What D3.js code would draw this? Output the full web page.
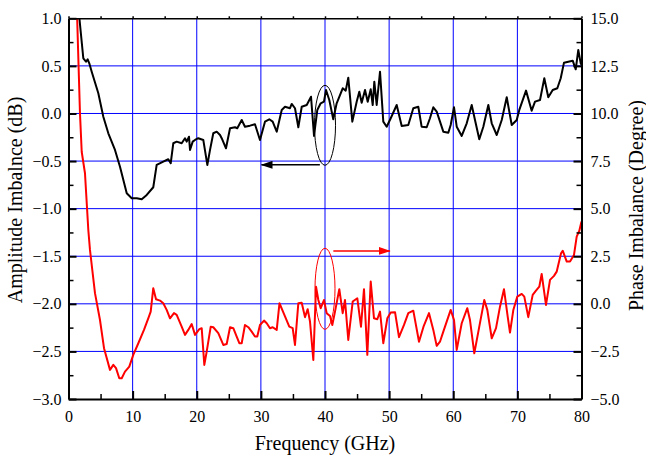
<!DOCTYPE html>
<html>
<head>
<meta charset="utf-8">
<script src="https://cdn.jsdelivr.net/npm/d3@7"></script>
<style>
  html, body { margin: 0; padding: 0; background: #fff; }
  svg { display: block; }
  text { font-family: "Liberation Serif", "Times New Roman", Times, serif; fill: #000; }
</style>
</head>
<body>
<svg id="chart" width="646" height="457"></svg>
<script>
// ---------- data ----------
const ampFreq = [1.7,2.31,2.73,2.99,3.24,3.62,4.65,5.43,6.21,7.25,8.03,9.08,9.86,10.64,11.42,12.2,13.22,13.75,14.78,15.56,15.94,16.34,16.87,17.65,18.17,18.43,18.79,18.95,19.37,19.73,20.24,21.02,21.65,22.07,22.58,23.11,23.63,23.89,24.56,25.19,25.97,26.32,27.01,27.52,28.3,29.08,29.86,30.64,31.31,31.84,32.47,33.25,33.76,34.54,34.81,35.32,35.84,36.37,37.15,37.82,38.29,38.8,39.33,39.84,40.16,40.67,41.29,41.82,42.76,43.23,43.63,44.26,44.94,45.35,45.72,46.24,46.66,47.13,47.44,47.69,48.06,48.58,49.09,49.62,50.25,51.18,51.96,52.99,53.77,54.55,55.07,55.86,56.37,56.89,57.42,58.45,59.23,59.6,60.12,60.54,61.32,62.1,62.88,63.39,64.06,64.69,65.47,66.0,66.78,67.56,68.34,69.12,69.9,70.3,71.35,72.23,72.75,73.53,74.2,74.82,75.51,76.23,76.76,77.27,77.94,78.63,79.1,79.5,79.88,80.0];
const ampValues = [1.0,0.58,0.544,0.569,0.527,0.439,0.212,-0.034,-0.208,-0.383,-0.559,-0.838,-0.891,-0.891,-0.901,-0.856,-0.775,-0.541,-0.506,-0.481,-0.523,-0.313,-0.296,-0.313,-0.26,-0.296,-0.244,-0.383,-0.296,-0.278,-0.26,-0.278,-0.541,-0.383,-0.208,-0.191,-0.226,-0.26,-0.366,-0.155,-0.145,-0.155,-0.068,-0.139,-0.128,-0.113,-0.278,-0.086,-0.061,-0.086,-0.191,0.037,0.071,0.055,0.10,0.055,-0.145,0.071,0.089,0.176,-0.236,0.037,0.107,0.124,0.247,0.142,-0.061,0.107,0.265,0.24,0.376,-0.086,0.124,0.229,0.113,0.247,0.124,0.254,0.089,0.334,0.089,0.439,-0.086,-0.139,-0.05,0.089,-0.131,-0.121,0.055,0.071,-0.139,-0.145,-0.05,0.065,0.019,-0.191,-0.202,-0.121,0.065,-0.139,-0.236,-0.103,0.089,-0.068,-0.271,-0.139,0.089,-0.103,-0.226,-0.068,0.17,-0.121,-0.068,0.037,0.24,0.029,0.124,0.142,0.37,0.17,0.247,0.265,0.37,0.534,0.544,0.555,0.464,0.667,0.527,0.51];

const phaseFreq = [1.35,1.79,2.06,2.57,3.09,3.35,4.13,4.91,5.54,6.47,6.99,7.41,7.92,8.3,8.81,9.48,10.1,10.89,11.77,12.44,12.82,13.22,13.65,14.27,14.78,15.31,15.83,16.45,16.87,17.65,18.17,18.68,19.21,19.73,20.4,20.77,21.18,21.55,22.18,22.58,23.36,24.14,24.67,25.19,25.7,26.23,26.64,27.01,27.52,28.04,28.57,29.08,29.44,29.86,30.49,30.91,31.42,31.84,32.47,32.9,33.5,34.43,34.96,35.32,35.84,36.37,36.88,37.3,37.66,38.18,38.6,38.96,39.33,39.84,40.26,40.78,41.14,41.56,42.23,42.76,43.12,43.63,44.32,45.04,45.61,46.08,46.6,47.13,47.64,48.16,48.58,49.09,49.72,50.25,50.92,51.54,52.32,52.99,53.77,54.66,55.36,56.22,56.89,57.42,57.93,58.45,59.6,60.12,60.54,61.32,62.19,62.61,63.28,64.06,64.84,65.31,66.0,66.67,67.29,67.91,68.49,68.85,69.37,69.99,70.68,71.08,71.7,72.39,72.9,73.42,73.79,74.46,75.09,75.71,76.13,76.81,77.07,77.7,78.21,78.83,79.25,79.66,80.0];
const phaseValues = [15.0,10.01,7.99,6.86,3.88,2.83,0.56,-0.85,-2.33,-3.47,-3.21,-3.38,-3.91,-3.91,-3.56,-3.30,-2.68,-2.07,-1.37,-0.76,-0.41,0.82,0.24,0.17,0.03,-0.32,-0.76,-0.49,-0.58,-1.20,-1.63,-1.37,-1.06,-1.63,-1.33,-1.28,-3.21,-2.51,-1.20,-1.23,-1.54,-2.16,-2.11,-1.23,-1.28,-1.72,-2.07,-2.07,-1.11,-1.23,-1.46,-1.72,-1.72,-1.11,-0.88,-1.02,-1.28,-1.23,-1.37,0.03,-0.45,-1.20,-1.28,-2.16,0.03,0.06,-0.70,-0.28,-0.93,-2.95,0.90,0.20,-0.23,0.20,-0.49,-0.64,-1.11,-0.41,0.77,-0.49,0.20,-1.90,0.12,0.29,-1.20,0.77,-2.68,1.17,-0.76,-0.81,-0.41,-2.07,-0.76,-0.46,-0.44,-1.75,-1.11,-0.49,-0.36,-1.99,-1.20,-0.49,-1.37,-2.21,-1.99,-1.46,-0.32,-0.85,-2.42,-1.02,-0.23,-0.85,-2.60,-1.20,0.20,-0.32,-1.81,-1.28,-0.15,0.77,-0.67,-1.51,-0.32,0.38,0.52,0.38,-0.70,0.47,0.69,0.90,1.57,-0.06,1.26,1.47,1.69,2.66,2.79,2.22,2.22,2.57,3.53,3.84,4.32];

const xTicks = [0,10,20,30,40,50,60,70,80];
const xMinor = [5,15,25,35,45,55,65,75];
const yLeftTicks = [1.0,0.5,0.0,-0.5,-1.0,-1.5,-2.0,-2.5,-3.0];
const yLeftMinor = [0.75,0.25,-0.25,-0.75,-1.25,-1.75,-2.25,-2.75];
const yRightTicks = [15.0,12.5,10.0,7.5,5.0,2.5,0.0,-2.5,-5.0];
const yRightMinor = [13.75,11.25,8.75,6.25,3.75,1.25,-1.25,-3.75];
const xGrid = [10,20,30,40,50,60,70];
const yGrid = [0.5,0.0,-0.5,-1.0,-1.5,-2.0,-2.5];

const xTitle = "Frequency (GHz)";
const yLeftTitle = "Amplitude Imbalnce (dB)";
const yRightTitle = "Phase Imbalance (Degree)";

// annotations (data coordinates)
const ampMark = {f: 40, v: -0.124, rf: 1.64, rv: 0.42, arrowFrom: 39.2, arrowTo: 30.1, arrowV: -0.54};
const phaseMark = {f: 40, v: 0.79, rf: 1.56, rv: 2.13, arrowFrom: 41.3, arrowTo: 50.1, arrowV: 2.78};

// ---------- layout ----------
const FONT = '"Liberation Serif", "Times New Roman", Times, serif';
const W = 646, H = 457;
const margin = {top: 18.3, left: 68.5, right: 64.5, bottom: 58};
const x = d3.scaleLinear().domain([0, 80]).range([margin.left, W - margin.right]);
const yL = d3.scaleLinear().domain([-3, 1]).range([H - margin.bottom, margin.top]);
const yR = d3.scaleLinear().domain([-5, 15]).range([H - margin.bottom, margin.top]);

const svg = d3.select("#chart");
const defs = svg.append("defs");
defs.append("clipPath").attr("id", "plotclip").append("rect")
  .attr("x", x(0)).attr("y", yL(1)).attr("width", x(80) - x(0)).attr("height", yL(-3) - yL(1));

function marker(id, color) {
  defs.append("marker").attr("id", id).attr("viewBox", "0 0 12 8")
    .attr("refX", 11).attr("refY", 4).attr("markerWidth", 12).attr("markerHeight", 8)
    .attr("markerUnits", "userSpaceOnUse").attr("orient", "auto")
    .append("path").attr("d", "M0,0 L12,4 L0,8 Z").attr("fill", color);
}
marker("arrBlack", "#000");
marker("arrRed", "#ff0000");

// grid
const grid = svg.append("g");
grid.selectAll("line.v").data(xGrid).join("line")
  .attr("x1", d => x(d)).attr("x2", d => x(d)).attr("y1", yL(1)).attr("y2", yL(-3))
  .attr("stroke", "#0000ff").attr("stroke-width", 1);
grid.selectAll("line.h").data(yGrid).join("line")
  .attr("x1", x(0)).attr("x2", x(80)).attr("y1", d => yL(d)).attr("y2", d => yL(d))
  .attr("stroke", "#0000ff").attr("stroke-width", 1);

// data lines
const plot = svg.append("g").attr("clip-path", "url(#plotclip)");
const ampData = ampFreq.map((f, i) => [f, ampValues[i]]);
const phData = phaseFreq.map((f, i) => [f, phaseValues[i]]);
plot.append("path").datum(ampData)
  .attr("d", d3.line().x(d => x(d[0])).y(d => yL(d[1])))
  .attr("fill", "none").attr("stroke", "#000").attr("stroke-width", 2).attr("stroke-linejoin", "round");
plot.append("path").datum(phData)
  .attr("d", d3.line().x(d => x(d[0])).y(d => yR(d[1])))
  .attr("fill", "none").attr("stroke", "#ff0000").attr("stroke-width", 2).attr("stroke-linejoin", "round");

// annotations
svg.append("ellipse").attr("cx", x(ampMark.f)).attr("cy", yL(ampMark.v))
  .attr("rx", x(ampMark.rf) - x(0)).attr("ry", yL(0) - yL(ampMark.rv))
  .attr("fill", "none").attr("stroke", "#000").attr("stroke-width", 1);
svg.append("line").attr("x1", x(ampMark.arrowFrom)).attr("x2", x(ampMark.arrowTo))
  .attr("y1", yL(ampMark.arrowV)).attr("y2", yL(ampMark.arrowV))
  .attr("stroke", "#000").attr("stroke-width", 1.5).attr("marker-end", "url(#arrBlack)");
svg.append("ellipse").attr("cx", x(phaseMark.f)).attr("cy", yR(phaseMark.v))
  .attr("rx", x(phaseMark.rf) - x(0)).attr("ry", yR(0) - yR(phaseMark.rv))
  .attr("fill", "none").attr("stroke", "#ff0000").attr("stroke-width", 1);
svg.append("line").attr("x1", x(phaseMark.arrowFrom)).attr("x2", x(phaseMark.arrowTo))
  .attr("y1", yR(phaseMark.arrowV)).attr("y2", yR(phaseMark.arrowV))
  .attr("stroke", "#ff0000").attr("stroke-width", 1.5).attr("marker-end", "url(#arrRed)");

// axes
const fmt = d3.format(".1f");
const fontSize = 16;
function styleAxis(g, width) {
  g.attr("font-family", FONT);
  g.select(".domain").attr("stroke", "#000").attr("stroke-width", width);
  g.selectAll(".tick line").attr("stroke", "#000").attr("stroke-width", width);
  g.selectAll(".tick text").style("font-family", FONT).attr("font-size", fontSize).attr("fill", "#000");
}
// bottom
const gB = svg.append("g").attr("transform", `translate(0,${yL(-3)})`)
  .call(d3.axisBottom(x).tickValues(xTicks).tickFormat(d3.format("d")).tickSizeInner(-8).tickSizeOuter(0).tickPadding(12));
styleAxis(gB, 2);
svg.append("g").attr("transform", `translate(0,${yL(-3)})`)
  .call(d3.axisBottom(x).tickValues(xMinor).tickFormat("").tickSizeInner(-5).tickSizeOuter(0))
  .call(g => { g.select(".domain").remove(); g.selectAll("line").attr("stroke", "#000").attr("stroke-width", 1.5); });
// top
const gT = svg.append("g").attr("transform", `translate(0,${yL(1)})`)
  .call(d3.axisTop(x).tickValues(xTicks.concat(xMinor)).tickFormat("").tickSizeInner(2).tickSizeOuter(0));
styleAxis(gT, 1.5);
// left
const gL = svg.append("g").attr("transform", `translate(${x(0)},0)`)
  .call(d3.axisLeft(yL).tickValues(yLeftTicks).tickFormat(fmt).tickSizeInner(-8).tickSizeOuter(0).tickPadding(7));
styleAxis(gL, 2);
svg.append("g").attr("transform", `translate(${x(0)},0)`)
  .call(d3.axisLeft(yL).tickValues(yLeftMinor).tickFormat("").tickSizeInner(-5).tickSizeOuter(0))
  .call(g => { g.select(".domain").remove(); g.selectAll("line").attr("stroke", "#000").attr("stroke-width", 1.5); });
// right
const gR = svg.append("g").attr("transform", `translate(${x(80)},0)`)
  .call(d3.axisRight(yR).tickValues(yRightTicks).tickFormat(fmt).tickSizeInner(-8).tickSizeOuter(0).tickPadding(9));
styleAxis(gR, 2);
svg.append("g").attr("transform", `translate(${x(80)},0)`)
  .call(d3.axisRight(yR).tickValues(yRightMinor).tickFormat("").tickSizeInner(-5).tickSizeOuter(0))
  .call(g => { g.select(".domain").remove(); g.selectAll("line").attr("stroke", "#000").attr("stroke-width", 1.5); });

// titles
svg.append("text").attr("x", (x(0) + x(80)) / 2).attr("y", 450)
  .attr("text-anchor", "middle").attr("font-size", 20).style("font-family", FONT).text(xTitle);
svg.append("text").attr("transform", `translate(21.5,200) rotate(-90)`)
  .attr("text-anchor", "middle").attr("font-size", 20).style("font-family", FONT).text(yLeftTitle);
svg.append("text").attr("transform", `translate(643,205.5) rotate(-90)`)
  .attr("text-anchor", "middle").attr("font-size", 20).style("font-family", FONT).text(yRightTitle);
</script>
</body>
</html>
